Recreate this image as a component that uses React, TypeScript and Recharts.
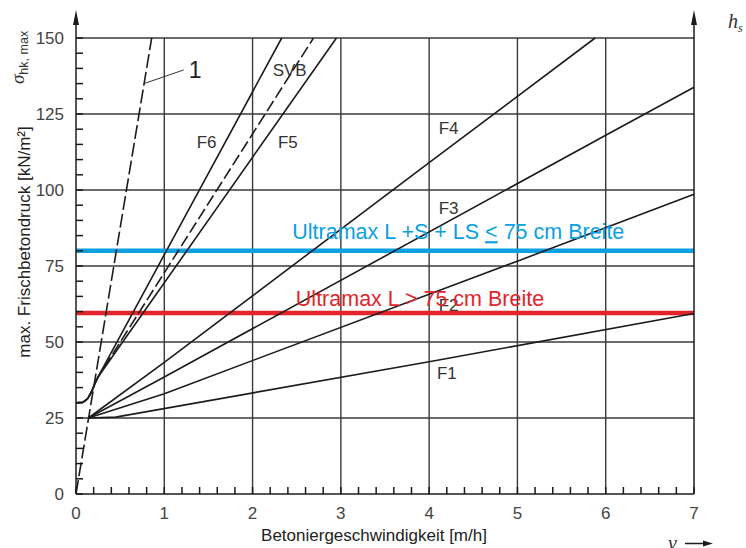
import React from "react";
import { LineChart, Line, XAxis, YAxis, ReferenceLine, ReferenceDot } from "recharts";

type Pt = { v: number; p: number };

// tick labels
const xTicks = [0, 1, 2, 3, 4, 5, 6, 7];
const leftTicks = [0, 25, 50, 75, 100, 125, 150];
const rightTicks = [0, 1, 2, 3, 4, 5, 6];

// small tick marks: every 0.2 m/h, every 5 kN/m², every 0.2 m
const xMinor = Array.from({ length: 36 }, (_, i) => (i * 2) / 10);
const leftMinor = Array.from({ length: 31 }, (_, i) => i * 5);
const rightMinor = Array.from({ length: 31 }, (_, i) => (i * 2) / 10);

// grid
const gridX = [1, 2, 3, 4, 5, 6];
const gridY = [25, 50, 75, 100, 125, 150];

// curves (v in m/h, p in kN/m²)
const curve1: Pt[] = [{ v: 0, p: 0 }, { v: 0.857, p: 150 }];
const f6: Pt[] = [
  { v: 0, p: 30 }, { v: 0.08, p: 30.2 }, { v: 0.13, p: 31.3 }, { v: 0.17, p: 33.3 },
  { v: 0.21, p: 36 }, { v: 0.25, p: 38.5 }, { v: 2.33, p: 150 },
];
const svb: Pt[] = [
  { v: 0, p: 30 }, { v: 0.08, p: 30.2 }, { v: 0.13, p: 31.3 }, { v: 0.17, p: 33.3 },
  { v: 0.21, p: 36 }, { v: 0.25, p: 38.5 }, { v: 2.69, p: 150 },
];
const f5: Pt[] = [
  { v: 0, p: 30 }, { v: 0.08, p: 30.2 }, { v: 0.13, p: 31.3 }, { v: 0.17, p: 33.3 },
  { v: 0.21, p: 36 }, { v: 0.25, p: 38.5 }, { v: 2.95, p: 150 },
];
const f4: Pt[] = [{ v: 0.14, p: 25 }, { v: 1, p: 43.3 }, { v: 4, p: 109 }, { v: 5.88, p: 150 }];
const f3: Pt[] = [{ v: 0.14, p: 25 }, { v: 1, p: 38.5 }, { v: 6, p: 118 }, { v: 7, p: 133.8 }];
const f2: Pt[] = [{ v: 0.14, p: 25 }, { v: 1, p: 33 }, { v: 5, p: 76.6 }, { v: 7, p: 98.6 }];
const f1: Pt[] = [{ v: 0.14, p: 25 }, { v: 0.45, p: 25.3 }, { v: 4, p: 43.5 }, { v: 7, p: 59.4 }];

// Ultramax limits
const limitBlue = 80;
const limitRed = 59.5;

const curveLabels = [
  { text: "F6", v: 1.48, p: 115.9 },
  { text: "SVB", v: 2.42, p: 139.5 },
  { text: "F5", v: 2.4, p: 115.9 },
  { text: "F4", v: 4.22, p: 120.3 },
  { text: "F3", v: 4.22, p: 94 },
  { text: "F2", v: 4.22, p: 62.2 },
  { text: "F1", v: 4.2, p: 39.7 },
];

const INK = "#1c1c1c";
const GRID = "#3a3a3a";
const TICK = "#1a1a1a";
const BLUE = "#0aa0e2";
const RED = "#e3242b";
const SANS = "'Liberation Sans', Arial, sans-serif";
const SERIF = "'Liberation Serif', 'DejaVu Serif', serif";
const TICK_LEN = 7;

// tick renderers: a short inner tick for every mark, a number only on the main ones.
// label offsets follow from tickSize={-6} and each axis' tickMargin
const BottomTick = ({ x, y, payload }: any) => {
  const axisY = y - 19;
  return (
    <g>
      <line x1={x} y1={axisY - TICK_LEN} x2={x} y2={axisY} stroke={TICK} strokeWidth={1.5} />
      {xTicks.includes(payload.value) && (
        <text x={x} y={y} dy="0.35em" textAnchor="middle" fontSize={17} fill="#444">
          {payload.value}
        </text>
      )}
    </g>
  );
};

const LeftTick = ({ x, y, payload }: any) => {
  const axisX = x + 12;
  return (
    <g>
      <line x1={axisX} y1={y} x2={axisX + TICK_LEN} y2={y} stroke={TICK} strokeWidth={1.5} />
      {leftTicks.includes(payload.value) && (
        <text x={x} y={y} dy="0.35em" textAnchor="end" fontSize={17} fill="#444">
          {payload.value}
        </text>
      )}
    </g>
  );
};

const RightTick = ({ x, y, payload }: any) => {
  const axisX = x - 10;
  return (
    <g>
      <line x1={axisX - TICK_LEN} y1={y} x2={axisX} y2={y} stroke={TICK} strokeWidth={1.5} />
      {rightTicks.includes(payload.value) && (
        <text x={x} y={y} dy="0.35em" textAnchor="start" fontSize={17} fill="#444">
          {payload.value}
        </text>
      )}
    </g>
  );
};

function Arrow({ ax, top }: { ax: number; top: number }) {
  return (
    <g>
      <line x1={ax} y1={top} x2={ax} y2={top - 16} stroke={INK} strokeWidth={1.5} />
      <polygon points={`${ax},${top - 28} ${ax - 3},${top - 13} ${ax + 3},${top - 13}`} fill={INK} />
    </g>
  );
}

function LeftDecor({ viewBox }: any) {
  const ax = viewBox.x + viewBox.width;
  const top = viewBox.y;
  return (
    <g>
      <Arrow ax={ax} top={top} />
      <text
        transform={`translate(${ax - 52},${top + 46}) rotate(-90)`}
        fontSize={19}
        fill="#333"
        fontFamily={SERIF}
        fontStyle="italic"
      >
        σ
        <tspan fontSize={12.5} dy={4} fontStyle="normal" fontFamily={SANS}>
          hk, max
        </tspan>
      </text>
      <text
        transform={`translate(${ax - 46},${top + 204}) rotate(-90)`}
        textAnchor="middle"
        fontSize={17}
        fill="#222"
      >
        max. Frischbetondruck [kN/m²]
      </text>
    </g>
  );
}

function RightDecor({ viewBox }: any) {
  const ax = viewBox.x;
  const top = viewBox.y;
  return (
    <g>
      <Arrow ax={ax} top={top} />
      <text x={ax + 34} y={top - 10} fontSize={20} fill="#333" fontFamily={SERIF} fontStyle="italic">
        h
        <tspan fontSize={12} dy={4}>s</tspan>
      </text>
    </g>
  );
}

function BottomDecor({ viewBox }: any) {
  const x0 = viewBox.x;
  const y0 = viewBox.y;
  return (
    <g>
      <text x={x0 + 298} y={y0 + 47} textAnchor="middle" fontSize={17} fill="#222">
        Betoniergeschwindigkeit [m/h]
      </text>
      <text x={x0 + 592} y={y0 + 56} fontSize={20} fill="#333" fontFamily={SERIF} fontStyle="italic">
        v
      </text>
      <line x1={x0 + 609} y1={y0 + 49.5} x2={x0 + 630} y2={y0 + 49.5} stroke={INK} strokeWidth={1.5} />
      <polygon
        points={`${x0 + 637},${y0 + 49.5} ${x0 + 627},${y0 + 46.5} ${x0 + 627},${y0 + 52.5}`}
        fill={INK}
      />
    </g>
  );
}

const textAt = (content: React.ReactNode, size: number, fill: string, anchor = "middle") =>
  ({ viewBox }: any) => (
    <text
      x={viewBox.x + viewBox.width / 2}
      y={viewBox.y + viewBox.height / 2}
      dy="0.35em"
      textAnchor={anchor}
      fontSize={size}
      fill={fill}
    >
      {content}
    </text>
  );

export default function App() {
  return (
    <div style={{ position: "absolute", left: 0, top: 0, background: "#fff" }}>
      <LineChart
        width={746}
        height={548}
        margin={{ top: 38, right: 12, bottom: 24, left: 36 }}
        style={{ fontFamily: SANS }}
      >
        <XAxis
          dataKey="v"
          type="number"
          domain={[0, 7]}
          ticks={xMinor}
          interval={0}
          height={30}
          tickSize={-6}
          tickMargin={25}
          tick={BottomTick}
          axisLine={{ stroke: INK, strokeWidth: 1.5 }}
          tickLine={false}
          label={(p: any) => <BottomDecor viewBox={p.viewBox} />}
        />
        <YAxis
          yAxisId="left"
          type="number"
          domain={[0, 150]}
          ticks={leftMinor}
          interval={0}
          width={40}
          tickSize={-6}
          tickMargin={18}
          tick={LeftTick}
          axisLine={{ stroke: INK, strokeWidth: 1.5 }}
          tickLine={false}
          label={(p: any) => <LeftDecor viewBox={p.viewBox} />}
        />
        <YAxis
          yAxisId="right"
          orientation="right"
          type="number"
          domain={[0, 6]}
          ticks={rightMinor}
          interval={0}
          width={40}
          tickSize={-6}
          tickMargin={16}
          tick={RightTick}
          axisLine={{ stroke: INK, strokeWidth: 1.5 }}
          tickLine={false}
          label={(p: any) => <RightDecor viewBox={p.viewBox} />}
        />

        {gridX.map((g) => (
          <ReferenceLine key={`gx${g}`} yAxisId="left" x={g} stroke={GRID} strokeWidth={1.4} />
        ))}
        {gridY.map((g) => (
          <ReferenceLine key={`gy${g}`} yAxisId="left" y={g} stroke={GRID} strokeWidth={1.4} />
        ))}

        <ReferenceLine yAxisId="left" y={limitBlue} stroke={BLUE} strokeWidth={4.5} />
        <ReferenceLine yAxisId="left" y={limitRed} stroke={RED} strokeWidth={4.5} />

        {curveLabels.map((l) => (
          <ReferenceDot
            key={l.text}
            yAxisId="left"
            x={l.v}
            y={l.p}
            r={0}
            fill="none"
            stroke="none"
            label={textAt(l.text, 17, "#333")}
          />
        ))}

        <Line data={curve1} dataKey="p" yAxisId="left" type="linear" stroke={INK} strokeWidth={1.6}
          strokeDasharray="14 4" dot={false} isAnimationActive={false} />
        <Line data={f6} dataKey="p" yAxisId="left" type="linear" stroke={INK} strokeWidth={1.6}
          dot={false} isAnimationActive={false} />
        <Line data={svb} dataKey="p" yAxisId="left" type="linear" stroke={INK} strokeWidth={1.6}
          strokeDasharray="12 4" dot={false} isAnimationActive={false} />
        <Line data={f5} dataKey="p" yAxisId="left" type="linear" stroke={INK} strokeWidth={1.6}
          dot={false} isAnimationActive={false} />
        <Line data={f4} dataKey="p" yAxisId="left" type="linear" stroke={INK} strokeWidth={1.6}
          dot={false} isAnimationActive={false} />
        <Line data={f3} dataKey="p" yAxisId="left" type="linear" stroke={INK} strokeWidth={1.6}
          dot={false} isAnimationActive={false} />
        <Line data={f2} dataKey="p" yAxisId="left" type="linear" stroke={INK} strokeWidth={1.6}
          dot={false} isAnimationActive={false} />
        <Line data={f1} dataKey="p" yAxisId="left" type="linear" stroke={INK} strokeWidth={1.6}
          dot={false} isAnimationActive={false} />

        <ReferenceLine
          yAxisId="left"
          segment={[{ x: 0.77, y: 135 }, { x: 1.22, y: 139.5 }]}
          stroke="#333"
          strokeWidth={1}
        />
        <ReferenceDot yAxisId="left" x={1.35} y={139.5} r={0} fill="none" stroke="none"
          label={textAt("1", 23, "#222")} />

        <ReferenceDot
          yAxisId="left"
          x={2.45}
          y={86.3}
          r={0}
          fill="none"
          stroke="none"
          label={textAt(
            <>
              Ultramax L +S + LS <tspan textDecoration="underline">&lt;</tspan> 75 cm Breite
            </>,
            21.5,
            BLUE,
            "start"
          )}
        />
        <ReferenceDot
          yAxisId="left"
          x={2.49}
          y={64.4}
          r={0}
          fill="none"
          stroke="none"
          label={textAt("Ultramax L > 75 cm Breite", 21.5, RED, "start")}
        />
      </LineChart>
    </div>
  );
}
